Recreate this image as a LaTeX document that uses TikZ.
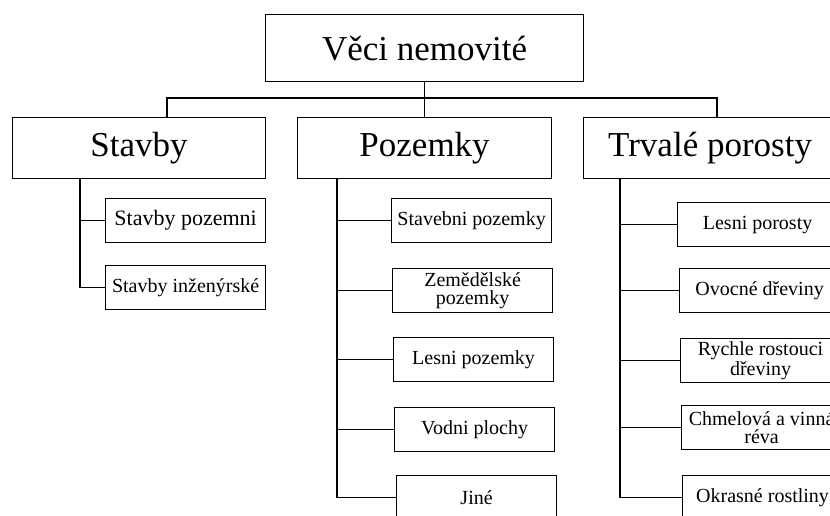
\documentclass[tikz,border=0pt]{standalone}
\usepackage{fontspec}
\setmainfont{Liberation Serif}
\newcommand{\velky}{\fontsize{35}{38}\selectfont}
\newcommand{\maly}{\fontsize{20}{18}\selectfont}
\tikzset{krabice/.style={draw,line width=1.2pt,inner sep=0,anchor=north west,
    align=center,text=black},
  hlavni/.style={krabice,minimum width=253pt,minimum height=61pt,font=\velky},
  polozka/.style={krabice,minimum width=160pt,minimum height=44pt,font=\maly},
  vetev/.style={line width=1.2pt}}

\begin{document}
\begin{tikzpicture}[x=1pt,y=-1pt]
\clip (0,0) rectangle (830,515);
\node[krabice,minimum width=318pt,minimum height=67pt,font=\velky] (koren) at (265,14) {Věci nemovité};
% druha uroven
\node[hlavni] (stavby) at (12,117) {Stavby};
\node[hlavni,minimum width=254pt] (pozemky) at (297,117) {Pozemky};
\node[hlavni] (porosty) at (583,117) {Trvalé porosty};
% stavby
\node[polozka,font=\fontsize{22}{20}\selectfont] (sp) at (105,198) {Stavby pozemni};
\node[polozka] (si) at (105,265) {Stavby inženýrské};
% pozemky
\node[polozka] (p1) at (391,198) {Stavebni pozemky};
\node[polozka] (p2) at (392,268) {Zemědělské\\pozemky};
\node[polozka] (p3) at (393,337) {Lesni pozemky};
\node[polozka] (p4) at (394,407) {Vodni plochy};
\node[polozka] (p5) at (396,475) {Jiné};
% trvale porosty
\node[polozka] (t1) at (677,202) {Lesni porosty};
\node[polozka] (t2) at (679,268) {Ovocné dřeviny};
\node[polozka] (t3) at (680,338) {Rychle rostouci\\dřeviny};
\node[polozka] (t4) at (681,405) {Chmelová a vinná\\réva};
\node[polozka] (t5) at (682,475) {Okrasné rostliny};
% spojnice
\coordinate (busL) at (167,98);
\coordinate (busR) at (717,98);
\draw[vetev] (koren.south) -- (koren.south |- pozemky.north);
\draw[vetev] (stavby.north -| busL) -- (busL) -- (busR) -- (porosty.north -| busR);
\coordinate (sv) at (80,178);
\coordinate (pv) at (337,178);
\coordinate (tv) at (620,178);
\foreach \c in {sp,si} \draw[vetev] (sv) |- (\c.west);
\foreach \c in {p1,p2,p3,p4,p5} \draw[vetev] (pv) |- (\c.west);
\foreach \c in {t1,t2,t3,t4,t5} \draw[vetev] (tv) |- (\c.west);
\end{tikzpicture}
\end{document}
